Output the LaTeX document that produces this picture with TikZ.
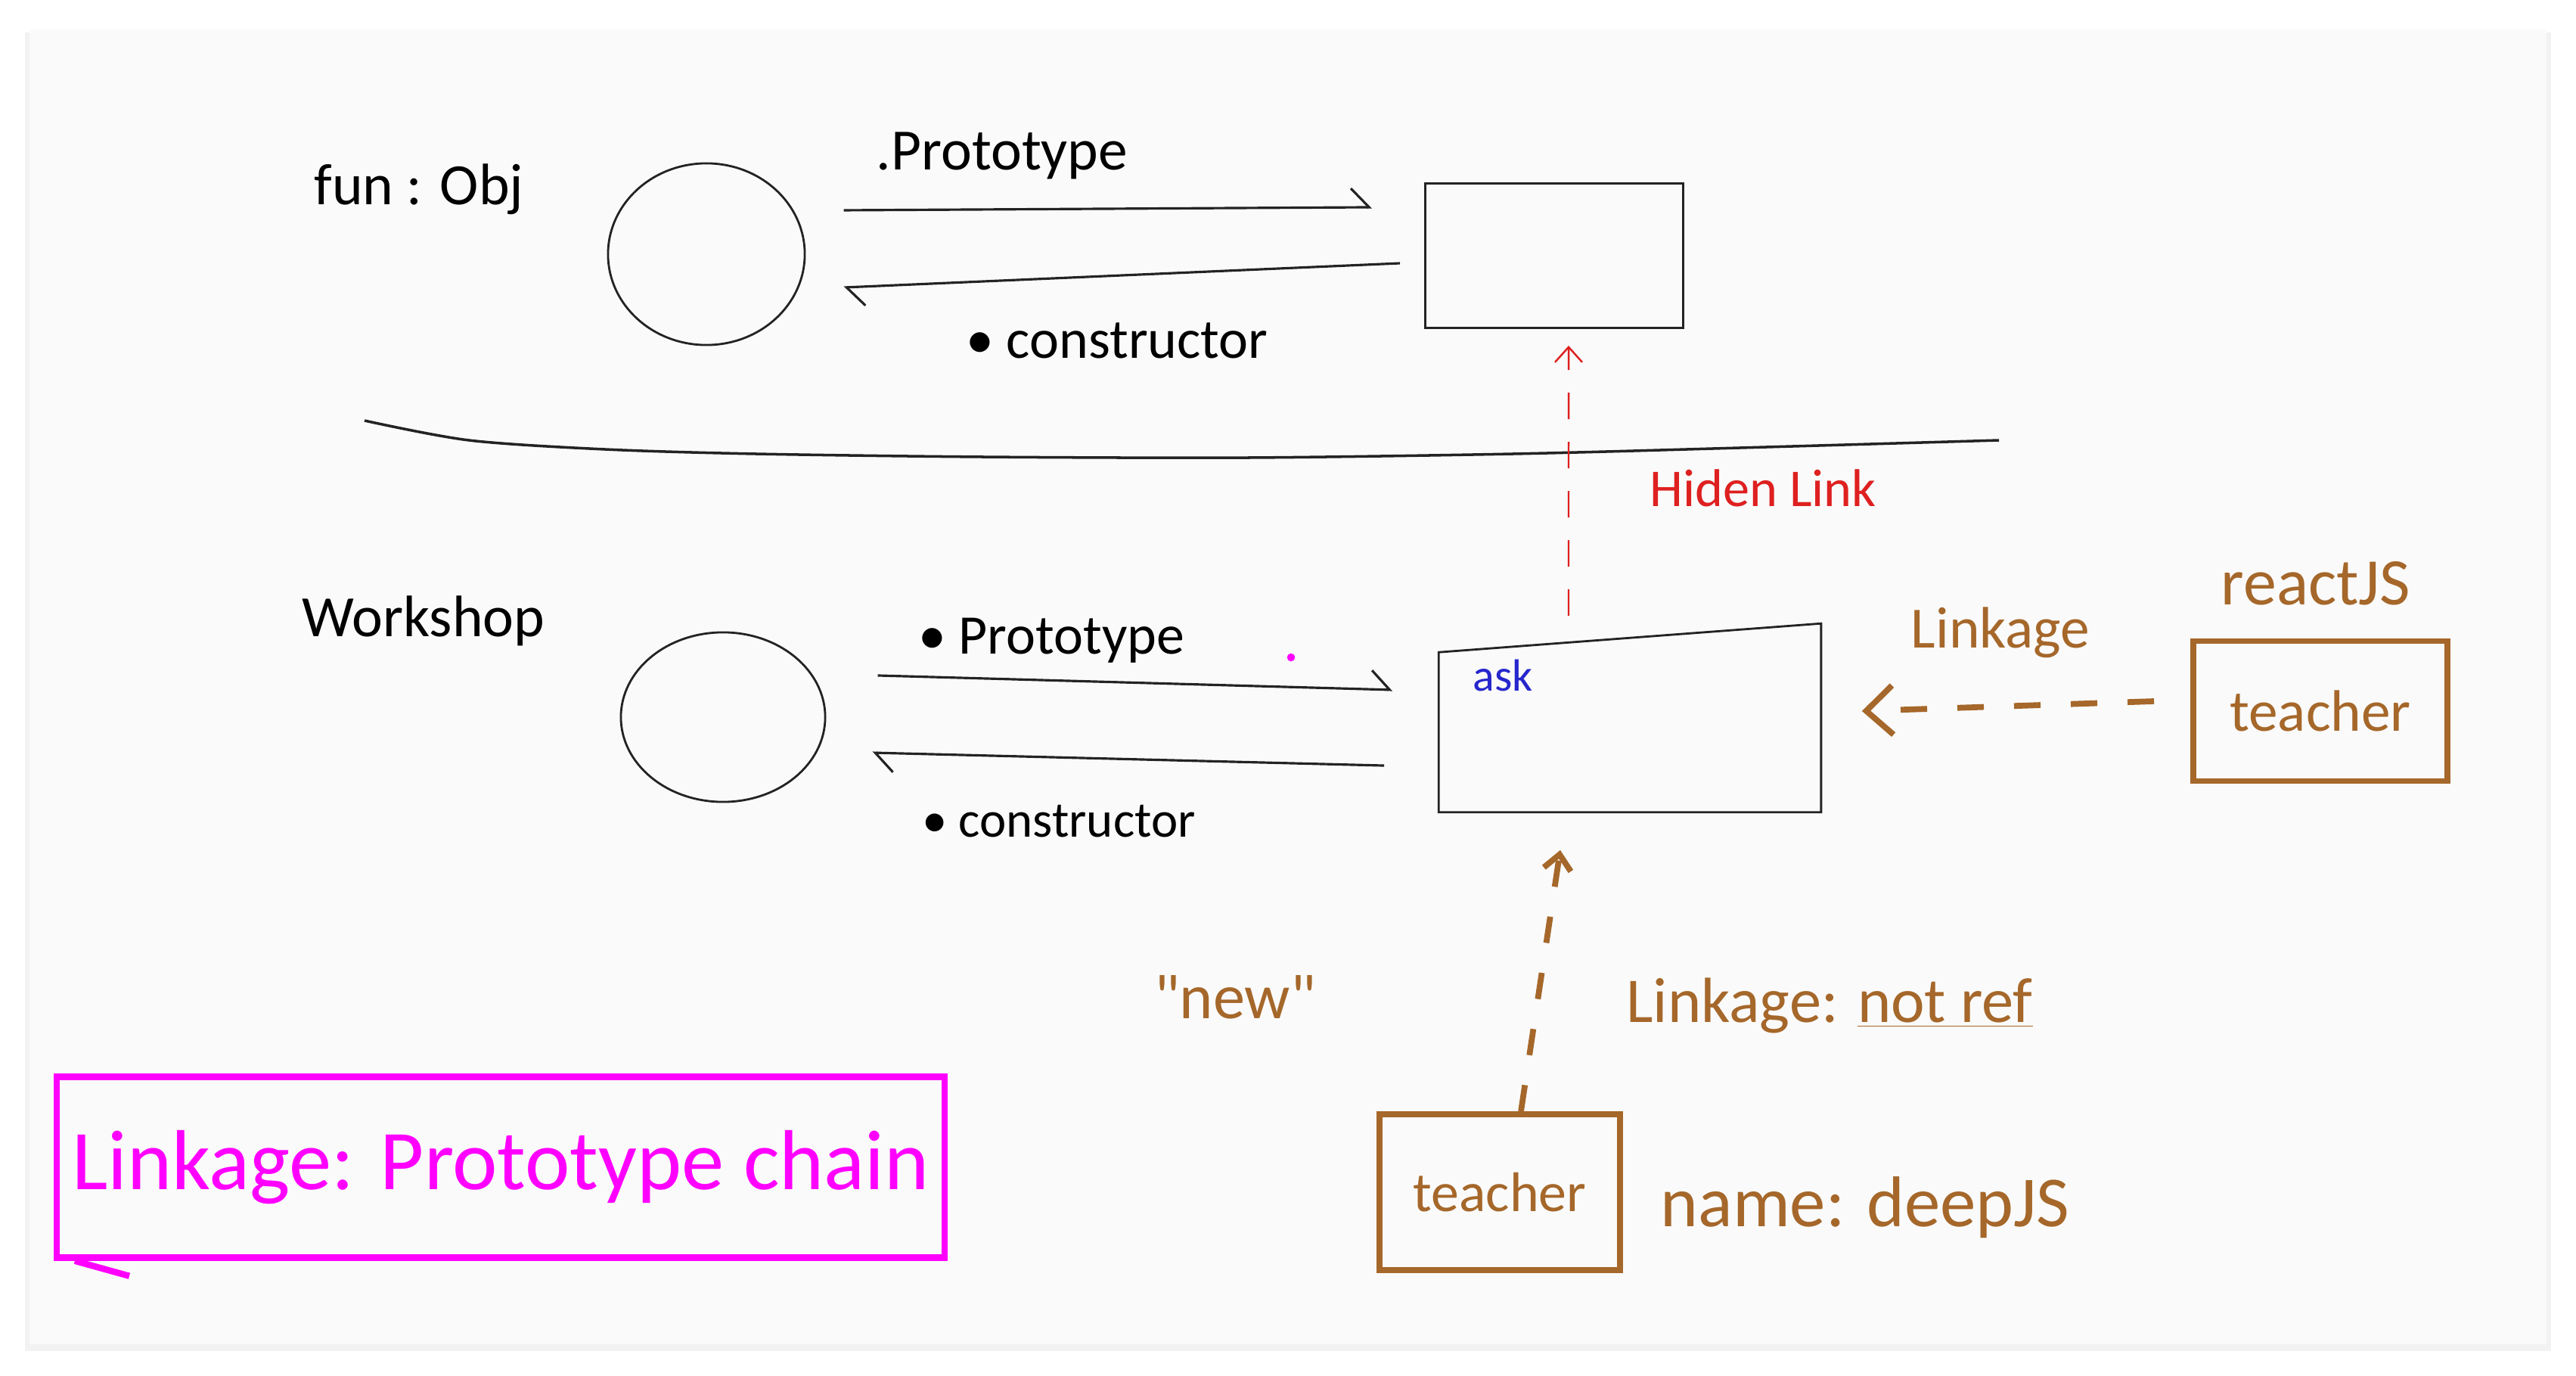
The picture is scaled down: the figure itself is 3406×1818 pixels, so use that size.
\documentclass[tikz,border=0pt]{standalone}
\usepackage{fontspec}
\setmainfont{Carlito}
\usetikzlibrary{shapes.geometric, arrows.meta, positioning}
\definecolor{ink}{RGB}{35,35,35}
\definecolor{pen}{RGB}{165,103,42}
\definecolor{redpen}{RGB}{222,32,32}
\definecolor{bluepen}{RGB}{38,38,205}
\definecolor{pinkpen}{RGB}{255,0,255}
\definecolor{card}{RGB}{250,250,250}
\tikzstyle{blob}=[draw=ink,ellipse,inner sep=0pt,line width=0.8pt]
\tikzstyle{box}=[draw=ink,rectangle,inner sep=0pt,line width=0.8pt]
\tikzstyle{tbox}=[draw=pen,rectangle,inner sep=0pt,line width=2.2pt,text=pen]
\tikzstyle{every node}=[inner sep=1pt]
\tikzstyle{link}=[ink,line width=0.9pt,-{Straight Barb[left,length=2.4mm,width=5mm]}]
\tikzstyle{hidden}=[redpen,line width=0.7pt,dash pattern=on 3.5mm off 3mm,-{Straight Barb[length=2mm,width=3.6mm]}]
\tikzstyle{penlink}=[pen,line width=2.2pt,dash pattern=on 3.5mm off 4mm,-{Straight Barb[length=3.5mm,width=6.5mm]}]
\newcommand{\hsz}[1]{\fontsize{#1}{#1}\selectfont}

\begin{document}
\begin{tikzpicture}[x=0.01cm, y=-0.01cm]
  \useasboundingbox (0,0) rectangle (3406,1818);
  \fill[white] (0,0) rectangle (3406,1818);
  \fill[black!5] (33,43) rectangle (3373,1786);
  \fill[card] (39,39) rectangle (3367,1777);

  % upper part: fun : Obj
  \node[blob, minimum width=2.6cm, minimum height=2.4cm] (fn) at (934,336) {};
  \node[box, minimum width=3.41cm, minimum height=1.91cm] (fnproto) at (2055,338) {};
  \node[font=\hsz{22}] (fnlbl) at (554,250) {fun : Obj};
  \draw[link] ([xshift=.5cm,yshift=.58cm]fn.east) -- ([xshift=-.69cm,yshift=.64cm]fnproto.west);
  \draw[link] ([xshift=-.32cm,yshift=-.1cm]fnproto.west) -- ([xshift=.5cm,yshift=-.44cm]fn.east);
  \node[font=\hsz{22}] (fnp) at (1325,206) {.Prototype};
  \node[font=\hsz{21}] (fnc) at (1477,450) {• constructor};

  \draw[ink, line width=1pt] plot[smooth] coordinates {(482,556) (620,582) (800,594) (1000,600) (1300,604) (1650,605) (2000,600) (2300,592) (2643,582)};

  % lower part: Workshop
  \node[blob, minimum width=2.7cm, minimum height=2.24cm] (ws) at (956,948) {};
  \node[minimum width=5.04cm, minimum height=2.48cm] (wsproto) at (2155,949) {};
  \draw[ink, line width=0.8pt] (wsproto.north east) -- ([yshift=-.38cm]wsproto.north west) -- (wsproto.south west) -- (wsproto.south east) -- cycle;
  \node[font=\hsz{22}] (wslbl) at (560,821) {Workshop};
  \draw[link] ([xshift=.68cm,yshift=.55cm]ws.east) -- ([xshift=-.61cm,yshift=.37cm]wsproto.west);
  \draw[link] ([xshift=-.72cm,yshift=-.63cm]wsproto.west) -- ([xshift=.61cm,yshift=-.47cm]ws.east);
  \node[font=\hsz{21}] (wsp) at (1390,847) {• Prototype};
  \node[font=\hsz{19}] (wsc) at (1400,1086) {• constructor};
  \node[font=\hsz{17}, text=bluepen] (ask) at (1987,893) {ask};
  \fill[pinkpen] (1707,869) circle (1.5pt);

  \draw[hidden] ([xshift=-.81cm,yshift=.1cm]wsproto.north) -- ([xshift=.19cm,yshift=-.22cm]fnproto.south);
  \node[font=\hsz{20}, text=redpen] (hid) at (2331,645) {Hiden Link};

  % teacher objects
  \node[tbox, minimum width=3.36cm, minimum height=1.85cm, font=\hsz{22}] (rt) at (3068,940) {teacher};
  \node[font=\hsz{25}, text=pen] (rjs) at (3062,771) {reactJS};
  \draw[penlink] ([xshift=-.48cm,yshift=.13cm]rt.west) -- ([xshift=.54cm,yshift=.09cm]wsproto.east);
  \node[font=\hsz{22}, text=pen] (rlk) at (2645,836) {Linkage};

  \node[tbox, minimum width=3.18cm, minimum height=2.06cm, font=\hsz{21}] (bt) at (1983,1576) {teacher};
  \draw[penlink, -{Straight Barb[length=2mm,width=3.6mm]}] ([xshift=.28cm]bt.north) -- ([xshift=-.92cm,yshift=-.5cm]wsproto.south);
  \node[font=\hsz{24}, text=pen] (new) at (1633,1318) {\textquotedbl new\textquotedbl};
  \node[font=\hsz{24}, text=pen] (blk) at (2419,1329) {Linkage: \underline{not ref}};
  \node[font=\hsz{27}, text=pen] (nm) at (2466,1596) {name: deepJS};

  % legend
  \node[draw=pinkpen, line width=2.4pt, minimum width=11.73cm, minimum height=2.39cm, text=pinkpen, font=\hsz{32}] (chain) at (662,1543) {Linkage: Prototype chain};
  \draw[pinkpen, line width=2.4pt] ([xshift=.28cm]chain.south west) -- ++(72,20);
\end{tikzpicture}
\end{document}
